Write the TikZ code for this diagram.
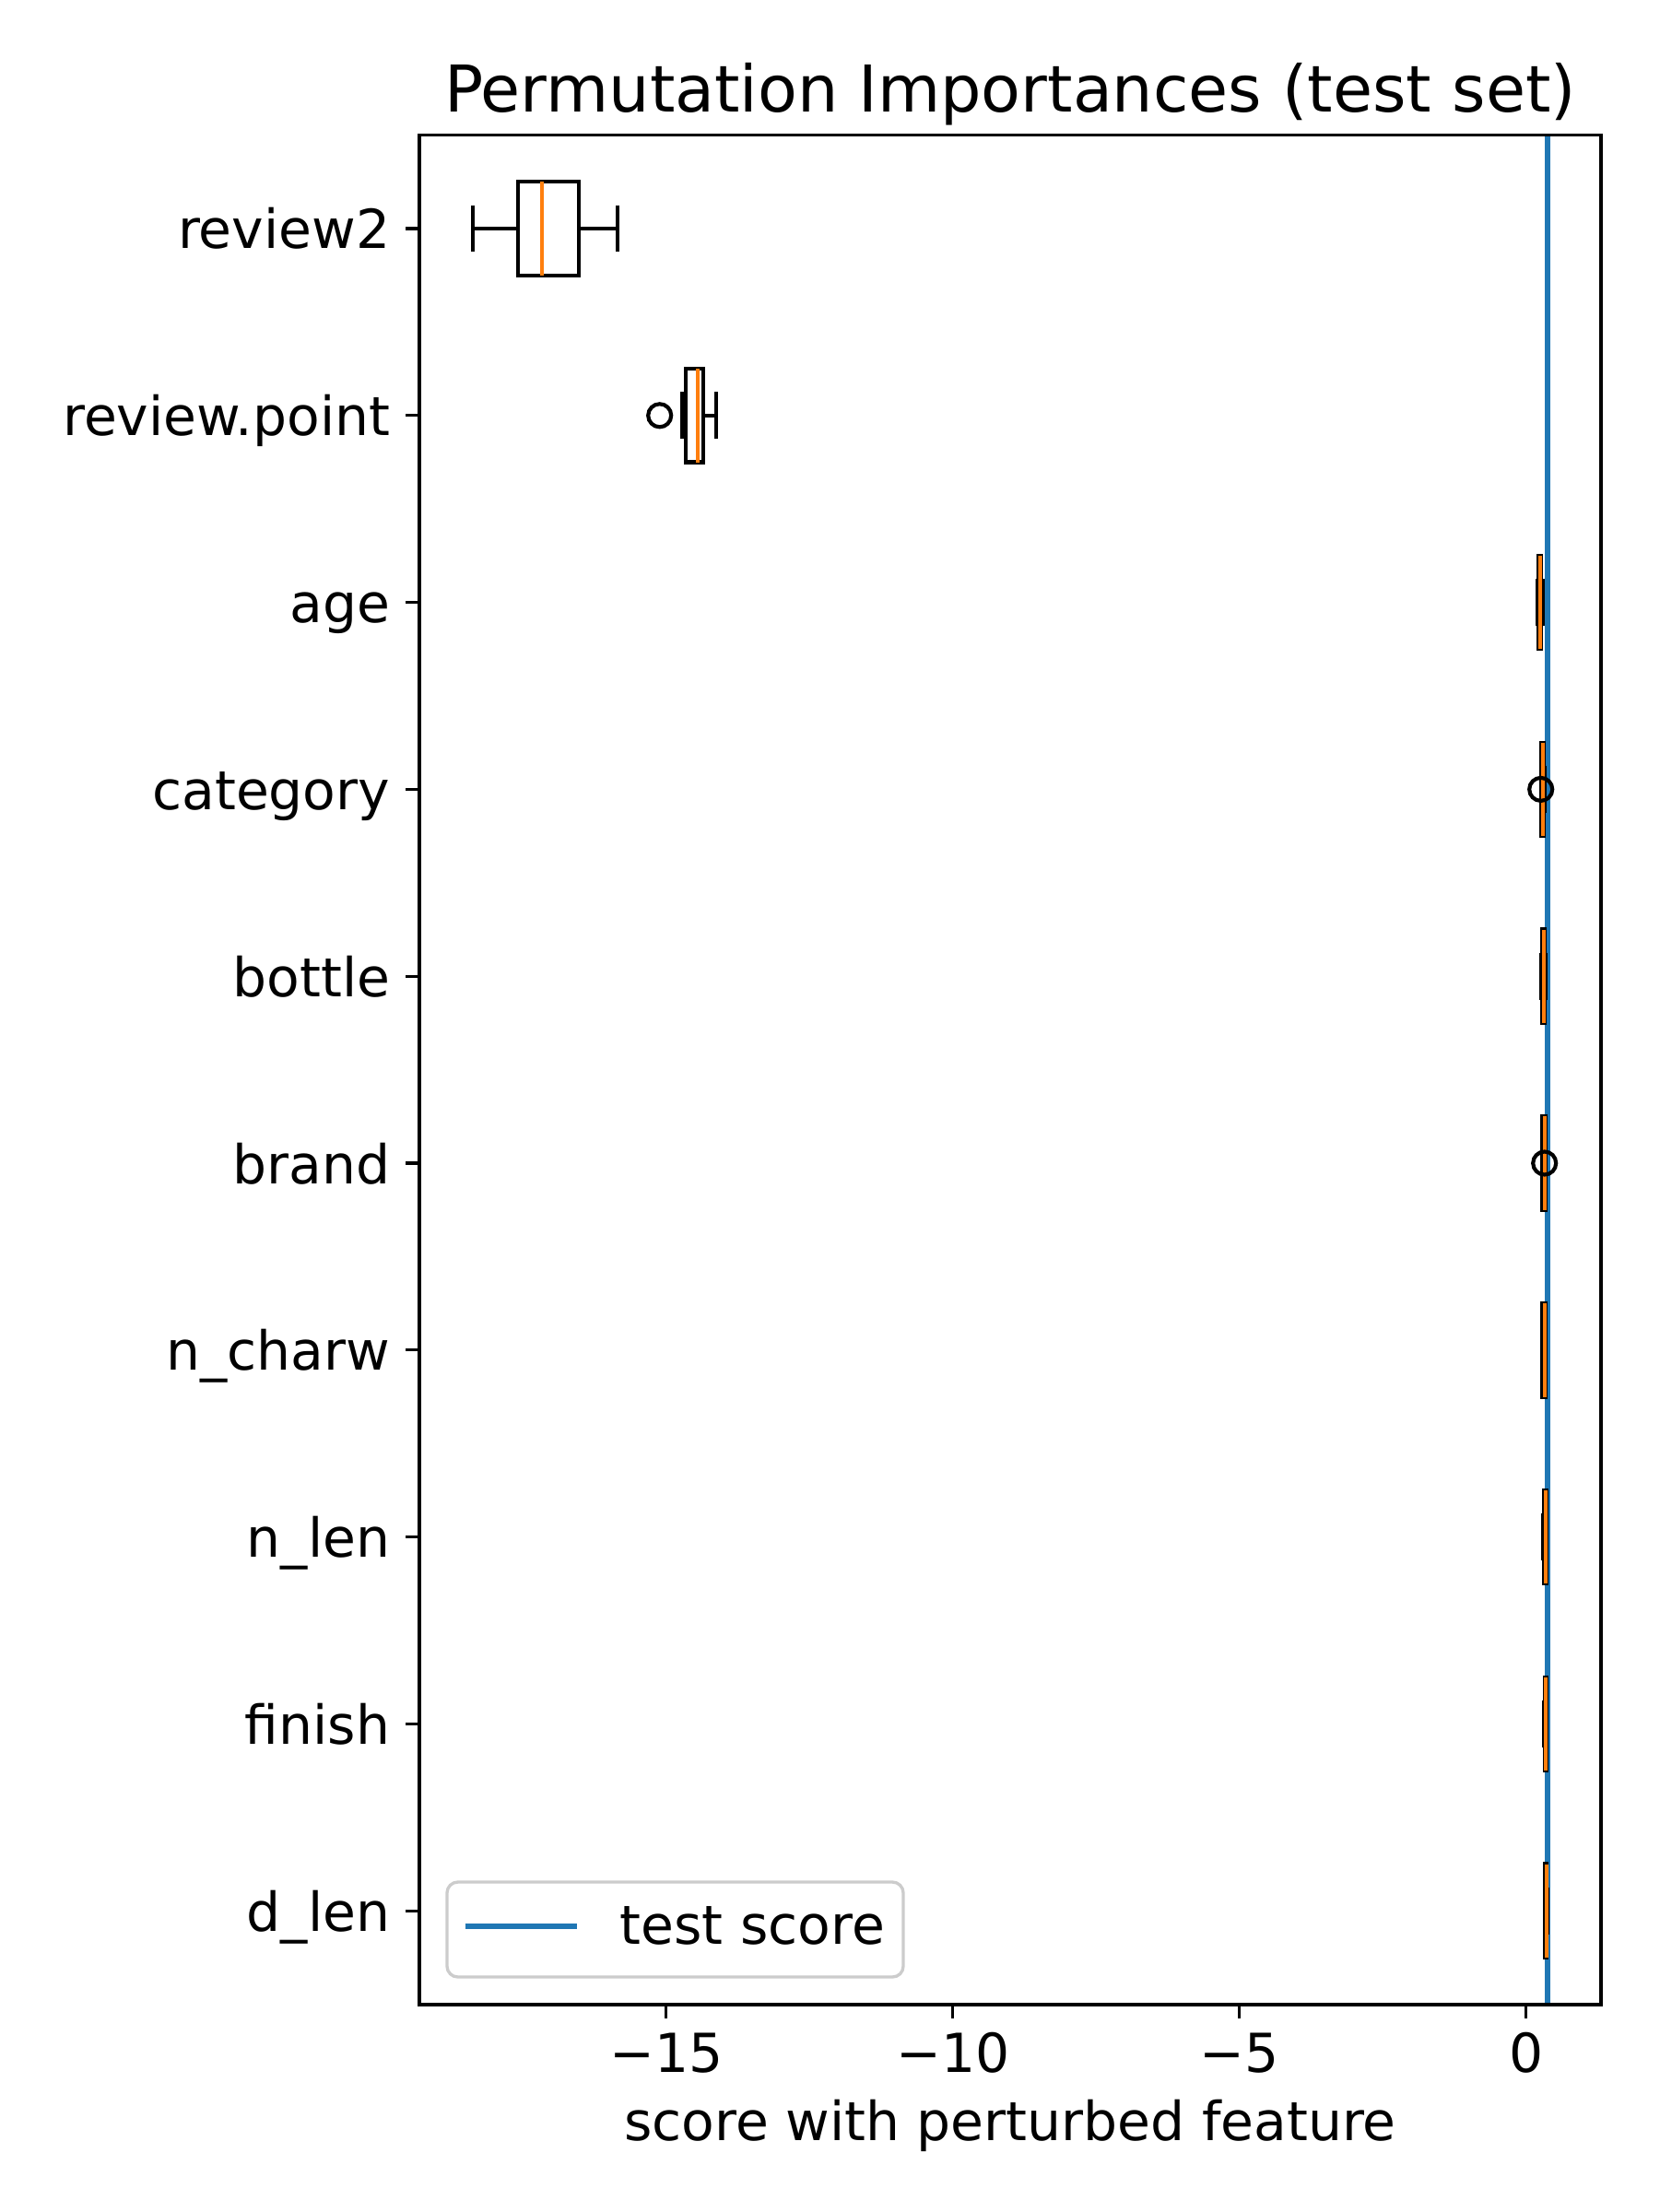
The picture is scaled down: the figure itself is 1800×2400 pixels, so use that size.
\documentclass[tikz,border=0pt]{standalone}
\usepackage{fontspec}
\setmainfont{DejaVu Sans}
\definecolor{mplblue}{HTML}{1F77B4}
\definecolor{mplorange}{HTML}{FF7F0E}
\definecolor{legedge}{HTML}{CCCCCC}
\newcommand\bxplot[6]{%
  \draw[boxline] (#2,#1) -- (#3,#1) (#5,#1) -- (#6,#1);
  \draw[boxline] (#2,#1-25.35) -- (#2,#1+25.35) (#6,#1-25.35) -- (#6,#1+25.35);
  \draw[boxline] (#3,#1-50.7) rectangle (#5,#1+50.7);
  \draw[medline] (#4,#1-50.7) -- (#4,#1+50.7);
}
\tikzset{
  boxline/.style={line width=1pt, black},
  medline/.style={line width=1pt, mplorange},
  spine/.style={line width=0.8pt, black, line join=miter},
  tickmark/.style={line width=0.8pt, black},
  flier/.style={circle, draw=black, line width=1pt, minimum size=6pt, inner sep=0pt},
  ticklab/.style={inner sep=0pt, font=\fontsize{14pt}{16pt}\selectfont},
  titlelab/.style={inner sep=0pt, font=\fontsize{16.8pt}{19pt}\selectfont},
  scoreline/.style={line width=1.5pt, mplblue},
}
\begin{document}
\begin{tikzpicture}[x=0.24pt, y=-0.24pt]
\useasboundingbox (0,0) rectangle (1800,2400);
% test score line (drawn beneath the boxes)
\coordinate (st) at (1679,146.7);
\coordinate (sb) at (1679,2175);
\draw[scoreline] (st) -- (sb);
% boxes
\bxplot{248}{513.3}{561.7}{587.7}{627.7}{670}
\bxplot{450.8}{740}{744.3}{756.7}{763.3}{777.3}
\bxplot{653.6}{1667.7}{1669}{1670.7}{1672}{1674}
\bxplot{856.4}{1671.7}{1672.5}{1673.7}{1675}{1676}
\bxplot{1059.2}{1672.3}{1673.5}{1675}{1676}{1677}
\bxplot{1262}{1673}{1673.3}{1675.7}{1676.5}{1677}
\bxplot{1464.8}{1673}{1673.3}{1675.7}{1676.5}{1677}
\bxplot{1667.6}{1674.3}{1675.5}{1677}{1677.5}{1678}
\bxplot{1870.4}{1675}{1675.8}{1677}{1677.5}{1678}
\bxplot{2073.2}{1676}{1676.5}{1677.7}{1678.2}{1678.6}
% fliers
\node[flier] (f1) at (715.7,450.8) {};
\node[flier] (f3) at (1671.7,856.4) {};
\node[flier] (f5) at (1675.7,1262) {};
% spines
\draw[spine] (455,146.7) rectangle (1737,2175);
% y ticks and labels
\foreach \lab [count=\i from 0] in {review2,review.point,age,category,bottle,brand,n\_charw,n\_len,finish,d\_len}{
  \pgfmathsetmacro\yc{248+\i*202.8}
  \draw[tickmark] (440.4,\yc) -- (455,\yc);
  \node[ticklab, anchor=base east] (yl\i) at (424,\yc+22) {\lab};
}
% x ticks and labels
\foreach \v/\lab [count=\j] in {-15/−15,-10/−10,-5/−5,0/0}{
  \pgfmathsetmacro\xc{1655.7+\v*62.2}
  \draw[tickmark] (\xc,2175) -- (\xc,2189.6);
  \node[ticklab, anchor=base] (xl\j) at (\xc,2248) {\lab};
}
% axis label and title
\node[ticklab, anchor=base] (xlabel) at (1096,2322) {score with perturbed feature};
\node[titlelab, anchor=base] (title) at (1096,121.7) {Permutation Importances (test set)};
% legend
\draw[legedge, line width=0.8pt, rounded corners=2.8pt, fill=white] (485,2042) rectangle (980,2145);
\coordinate (la) at (504.5,2090);
\coordinate (lb) at (626,2090);
\draw[scoreline] (la) -- (lb);
\node[ticklab, anchor=base west] (legtext) at (672,2109) {test score};
\end{tikzpicture}
\end{document}
